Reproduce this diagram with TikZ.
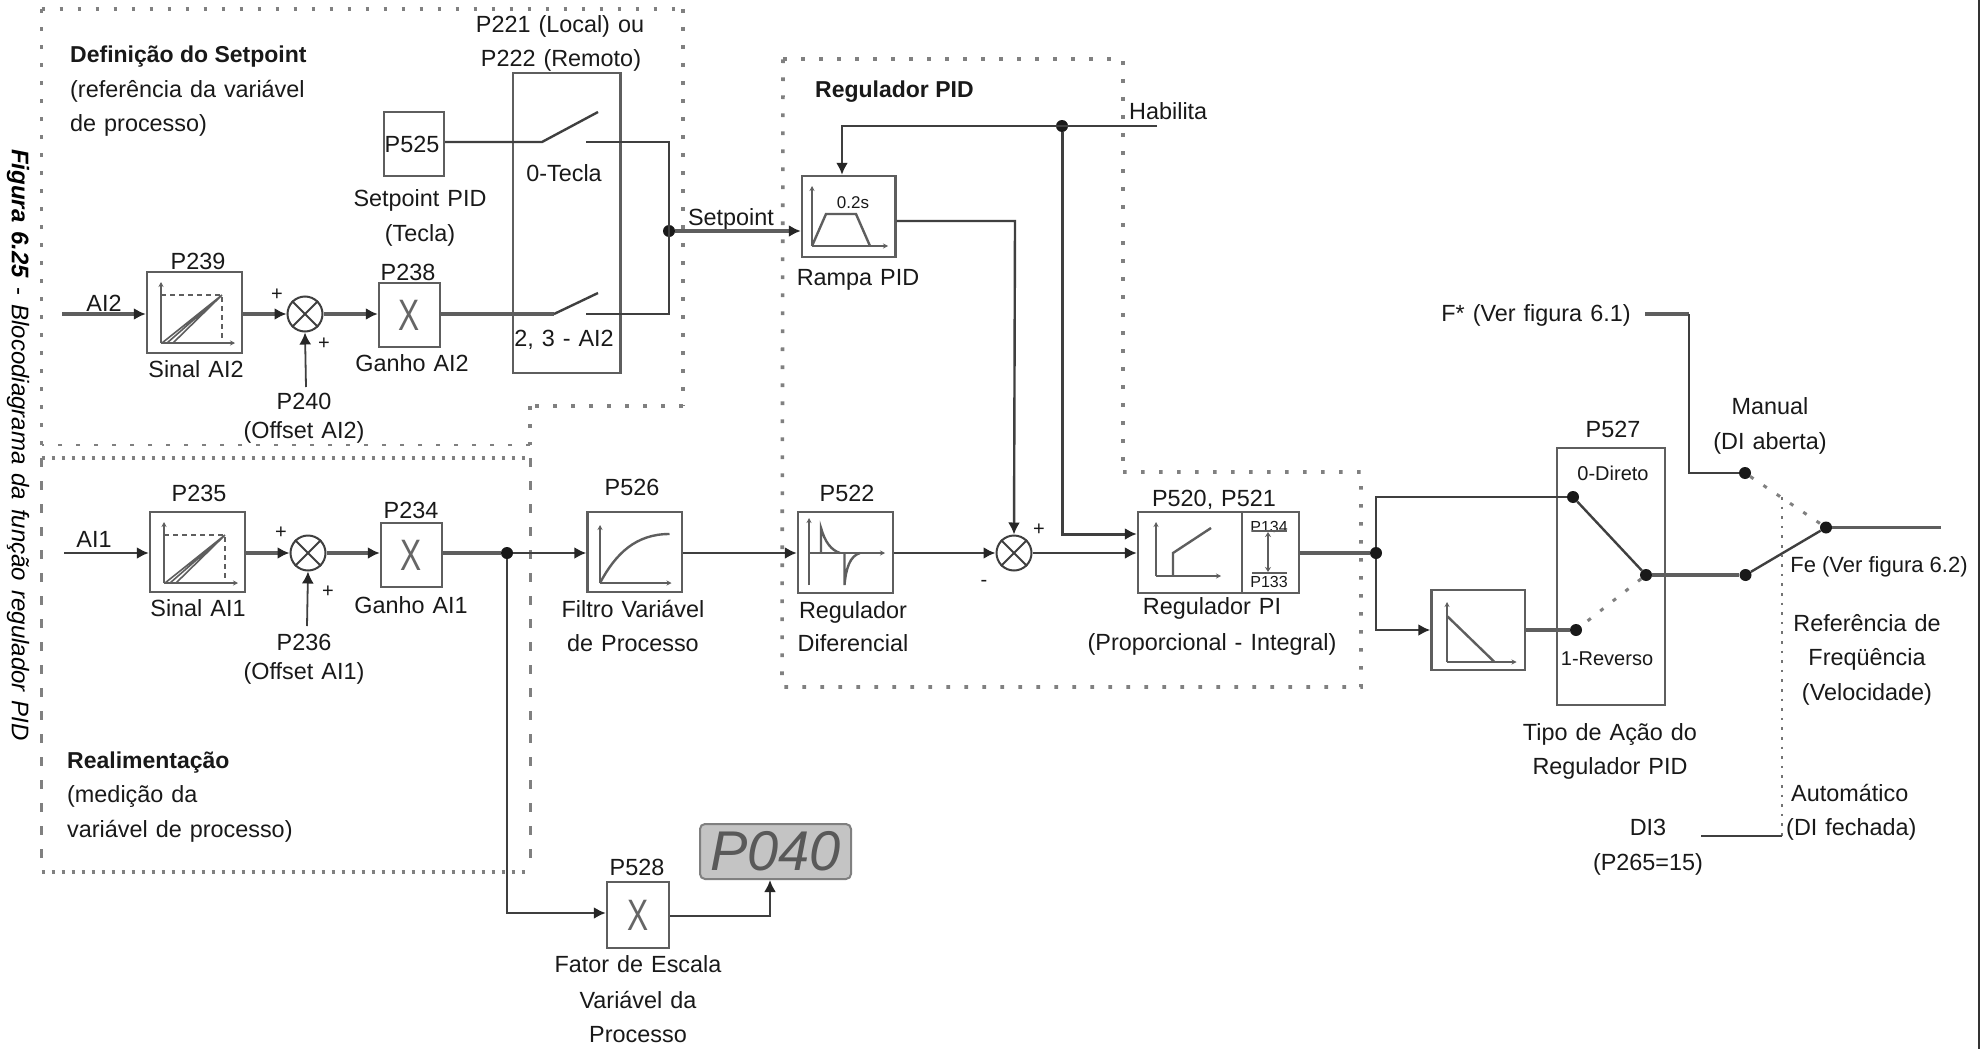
\documentclass[tikz,border=0pt]{standalone}
\usepackage{fontspec}
\setmainfont{Liberation Sans}
\usetikzlibrary{arrows.meta,calc}
\definecolor{boxc}{HTML}{5E5E5E}
\definecolor{wirec}{HTML}{3F3F3F}
\definecolor{dotc}{HTML}{808080}
\newcommand{\widesp}{\spaceskip 8pt\relax}
\newcommand{\widerp}{\spaceskip 9pt\relax}
\tikzset{
  lab/.style={inner sep=0pt,text height=16.5pt,text depth=0pt,font=\fontsize{23.4}{23.4}\selectfont\widesp,text=black!90},
  lableft/.style={lab,anchor=west},
  labb/.style={lab,font=\fontsize{23}{23}\bfseries\selectfont},
  labs/.style={lab,font=\fontsize{20}{20}\selectfont,text height=14.5pt},
  labt/.style={lab,font=\fontsize{16}{16}\selectfont,text height=12pt},
  bx/.style={draw=boxc,line width=2.4pt,fill=white,inner sep=0pt,minimum width=#1},
  bx/.default=60pt,
  wire/.style={draw=wirec,line width=2.4pt},
  wireh/.style={draw=boxc,line width=3.4pt},
  thin wire/.style={draw=wirec,line width=1.8pt},
  arr/.style={-{Latex[length=12pt,width=12pt,black!85]}},
  jun/.style={circle,fill=black!90,inner sep=0pt,minimum size=12pt},
  sumn/.style={circle,draw=wirec,line width=2pt,fill=white,inner sep=0pt,minimum size=35pt},
  axes/.style={draw=boxc,line width=2pt,-{Stealth[length=5pt,width=5pt]}},
  gr/.style={draw=boxc,line width=2.4pt},
  dotreg/.style={draw=dotc,line width=3.6pt,dash pattern=on 3.6pt off 14.4pt},
  dotdense/.style={draw=dotc,line width=3.6pt,dash pattern=on 3.6pt off 6.4pt},
  dashreg/.style={draw=dotc,line width=3pt,dash pattern=on 9pt off 14pt},
  dotthin/.style={draw=black!55,line width=2.4pt,dash pattern=on 2.6pt off 7pt},
  dotlink/.style={draw=dotc,line width=3pt,dash pattern=on 4pt off 12pt},
  xmark/.style={font=\fontsize{44}{44}\selectfont,text=black!60},
}
\newcommand{\crs}[1]{\draw[line width=1.8pt,draw=wirec] (#1.45) -- (#1.225) (#1.135) -- (#1.315);}
\newcommand{\xm}{\scalebox{.72}[1]{X}}
\newcommand{\sinalgraph}[2]{% box NW x,y
  \begin{scope}[shift={(#1,#2)}]
  \draw[axes] (14,71) -- (14,10);
  \draw[axes] (14,71) -- (88,71);
  \draw[draw=boxc,line width=2pt,dashed,dash pattern=on 5pt off 4pt] (14,23) -- (75,23) -- (75,71);
  \draw[gr,line width=1.6pt] (15,71) -- (75,23) (20,71) -- (75,23) (26,71) -- (75,23);
  \end{scope}}
\begin{document}
\begin{tikzpicture}[x=1pt,y=-1pt]
\useasboundingbox[fill=white] (0,0) rectangle (1986,1049);

% scan edge line
\draw[draw=black!80,line width=2pt] (1979,0) -- (1979,1049);

% dotted regions
\draw[dotreg] (41.5,9) -- (683,9);
\draw[dotreg] (683,9) -- (683,406);
\draw[dotreg] (683,406) -- (530,406);
\draw[dotreg] (530,406) -- (530,445);
\draw[dotreg,line width=2.8pt] (530,445) -- (41.5,445);
\draw[dotreg] (41.5,445) -- (41.5,9);
\draw[dotdense] (41.5,458) -- (530,458);
\draw[dotdense] (41.5,872) -- (530,872);
\draw[dashreg] (41.5,458) -- (41.5,872);
\draw[dashreg] (530,458) -- (530,872);
\draw[dotreg] (783,59) -- (1123,59) -- (1123,472);
\draw[dotreg] (1123,472) -- (1361,472) -- (1361,687) -- (782,687) -- (783,59);

% caption
\node[inner sep=0pt,rotate=-90,font=\fontsize{24}{24}\selectfont\widerp] (cap) at (18,445) {\textbf{\textit{Figura 6.25}} - \textit{Blocodiagrama da função regulador PID}};

% titles
\node[labb,anchor=west] (t1) at (70,54) {Definição do Setpoint};
\node[lableft] (t2) at (70,89) {(referência da variável};
\node[lableft] (t3) at (70,123) {de processo)};
\node[labb,anchor=west] (t4) at (67,760) {Realimentação};
\node[lableft] (t5) at (67,794) {(medição da};
\node[lableft] (t6) at (67,829) {variável de processo)};
\node[labb,anchor=west] (t7) at (815,89) {Regulador PID};

% upper chain boxes
\node[bx=95pt,minimum height=81pt] (p239) at (194.5,312.5) {};
\node[sumn] (s2) at (305,314) {};
\node[bx=61pt,minimum height=64pt,xmark] (p238) at (409.5,315) {\xm};
\node[bx=60pt,minimum height=64pt] (p525) at (414,144) {};
\node[bx=107.5pt,minimum height=300pt,fill=none] (sw) at (566.75,223) {};
\crs{s2}
\sinalgraph{147}{272}
\node[lab,inner sep=0pt] (p525t) at (412,144) {P525};
\node[lab] (lp239) at (198,261) {P239};
\node[lab] (lsa2) at (196,369) {Sinal AI2};
\node[lab] (lai2) at (104,303) {AI2};
\node[labs] (pl1) at (277,293) {+};
\node[labs] (pl2) at (324,342) {+};
\node[lab] (lp238) at (408,272) {P238};
\node[lab] (lg2) at (412,363) {Ganho AI2};
\node[lab] (lp240) at (304,401) {P240};
\node[lab] (lo2) at (304,430) {(Offset AI2)};
\node[lab] (lsp) at (420,198) {Setpoint PID};
\node[lab] (ltc) at (420,233) {(Tecla)};
\node[lab] (lp221) at (560,24) {P221 (Local) ou};
\node[lab] (lp222) at (561,58) {P222 (Remoto)};
\node[lab] (l0t) at (564,173) {0-Tecla};
\node[lab] (l23) at (564,338) {2, 3 - AI2};

% upper chain wires
\coordinate (ai2s) at (62,314);
\coordinate (o2) at (306,387);
\coordinate (c1a) at (542,142);
\coordinate (c1b) at (598,112);
\coordinate (c1c) at (586,142);
\coordinate (c2a) at (554,314);
\coordinate (c2b) at (598,293);
\coordinate (c2c) at (586,314);
\coordinate (cr) at (669,142);
\coordinate (crb) at (669,314);
\node[jun] (j1) at (669,231) {};
\draw[wireh,arr] (ai2s) -- (p239.west |- ai2s);
\draw[wireh,arr] (p239.east |- s2) -- (s2);
\draw[wireh,arr] (s2) -- (p238.west |- s2);
\draw[thin wire,arr] (o2) -- (s2.south);
\draw[wire] (p525.east |- c1a) -- (c1a) -- (c1b);
\draw[wireh] (p238.east |- c2a) -- (c2a);
\draw[wire] (c2a) -- (c2b);
\draw[wire] (c1c) -- (cr) -- (crb) -- (c2c);

% ramp
\node[bx=93.5pt,minimum height=81pt] (ramp) at (848.75,216.5) {};
\begin{scope}[shift={(802,176)}]
\draw[axes] (10,70) -- (10,10);
\draw[axes] (10,70) -- (86,70);
\draw[gr] (10,70) -- (24,38) -- (54,38) -- (68,70);
\end{scope}
\node[labt,font=\fontsize{17}{17}\selectfont] (l02) at (853,202) {0.2s};
\node[lab] (lrp) at (858,277) {Rampa PID};
\node[lab] (lsetp) at (731,217) {Setpoint};
\node[lableft] (lhab) at (1129,111) {Habilita};
\draw[wireh,arr] (j1) -- (ramp.west |- j1);
\coordinate (hab) at (1157,126);
\coordinate (habl) at (842,126);
\node[jun] (j2) at (1062,126) {};
\draw[wire,arr] (hab) -- (habl) -- (ramp.north -| habl);

% lower chain
\node[bx=95pt,minimum height=80pt] (p235) at (197.5,552) {};
\node[sumn] (s1) at (308,553) {};
\node[bx=61pt,minimum height=64pt,xmark] (p234) at (411.5,555) {\xm};
\node[bx=94.5pt,minimum height=80pt] (p526) at (634.75,552) {};
\node[bx=95pt,minimum height=81pt] (p522) at (845.5,552.5) {};
\node[sumn] (s3) at (1014,553) {};
\node[bx=104pt,minimum height=81pt] (pi) at (1190,552.5) {};
\node[bx=57pt,minimum height=81pt] (lim) at (1270.5,552.5) {};
\crs{s1}\crs{s3}
\sinalgraph{150}{512}
\node[lab] (lp235) at (199,493) {P235};
\node[lab] (lsa1) at (198,608) {Sinal AI1};
\node[lab] (lai1) at (94,539) {AI1};
\node[labs] (pl3) at (281,531) {+};
\node[labs] (pl4) at (328,590) {+};
\node[lab] (lp234) at (411,510) {P234};
\node[lab] (lg1) at (411,605) {Ganho AI1};
\node[lab] (lp236) at (304,642) {P236};
\node[lab] (lo1) at (304,671) {(Offset AI1)};
\node[lab] (lp526) at (632,487) {P526};
\node[lab] (lf1) at (633,609) {Filtro Variável};
\node[lab] (lf2) at (633,643) {de Processo};
\node[lab] (lp522) at (847,493) {P522};
\node[lab] (lr1) at (853,610) {Regulador};
\node[lab] (lr2) at (853,643) {Diferencial};
\node[labs] (pl5) at (1039,528) {+};
\node[labs] (mi1) at (984,579) {-};
\node[lab] (lp520) at (1214,498) {P520, P521};
\node[lab] (lpi) at (1212,606) {Regulador PI};
\node[lab] (lpp) at (1212,642) {(Proporcional - Integral)};
\node[labt] (l134) at (1269,526) {P134};
\node[labt] (l133) at (1269,581) {P133};
\begin{scope}[shift={(587.5,512)}]
\draw[axes] (12.5,71) -- (12.5,13);
\draw[axes] (12.5,71) -- (84,71);
\draw[gr] (12.5,71) .. controls (28,42) and (48,22) .. (82,22);
\end{scope}
\begin{scope}[shift={(798,512)}]
\draw[axes] (11,73) -- (11,6);
\draw[axes] (11,41) -- (87,41);
\draw[gr] (23,41) -- (23,16) .. controls (27,30) and (33,38) .. (42,41);
\draw[gr] (46.5,41) -- (46.5,73) .. controls (48,56) and (52,44) .. (62,41);
\end{scope}
\begin{scope}[shift={(1138,512)}]
\draw[axes] (18,64) -- (18,10);
\draw[axes] (18,64) -- (83,64);
\draw[gr] (35,64) -- (35,41) -- (73,16);
\end{scope}
\draw[draw=boxc,line width=2.4pt] (1252,531) -- (1286.5,531) (1252,573) -- (1286.5,573);
\draw[draw=boxc,line width=1.6pt,{Stealth[length=5pt,width=6pt]}-{Stealth[length=5pt,width=6pt]}] (1268,532) -- (1268,572);

\coordinate (ai1s) at (64,553);
\coordinate (o1) at (307,626);
\coordinate (rbr) at (1015,221);
\coordinate (pi2) at (1062,534);
\node[jun] (j3) at (507,553) {};
\node[jun] (j4) at (1376,553) {};
\draw[wire,arr] (ai1s) -- (p235.west |- ai1s);
\draw[wireh,arr] (p235.east |- s1) -- (s1);
\draw[wireh,arr] (s1) -- (p234.west |- s1);
\draw[thin wire,arr] (o1) -- (s1.south);
\draw[wireh] (p234.east |- j3) -- (j3);
\draw[wire,arr] (j3) -- (p526.west |- j3);
\draw[wire,arr] (p526.east |- j3) -- (p522.west |- j3);
\draw[wire,arr] (p522.east |- s3) -- (s3);
\draw[wire,arr] (s3) -- (pi.west |- s3);
\draw[wire,arr] (ramp.east |- rbr) -- (rbr) -- (s3.north);
\draw[draw=wirec,line width=3pt,arr] (j2) -- (pi2) -- (pi.west |- pi2);
\draw[wireh] (lim.east |- j4) -- (j4);

% P528 + display
\node[bx=62pt,minimum height=66pt,xmark] (p528) at (638,915) {\xm};
\node[lab] (lp528) at (637,867) {P528};
\node[lab] (lfa) at (638,964) {Fator de Escala};
\node[lab] (lva) at (638,1000) {Variável da};
\node[lab] (lpr) at (638,1034) {Processo};
\node[draw=black!50,line width=2pt,fill=black!23,rounded corners=5pt,minimum width=151pt,minimum height=55pt,inner sep=0pt,
      font=\itshape\fontsize{56}{56}\selectfont,text=black!65] (disp) at (775.5,851.5) {P040};
\coordinate (lowc) at (507,913);
\coordinate (dsp) at (770,916);
\draw[wire,arr] (j3) -- (lowc) -- (p528.west |- lowc);
\draw[wire,arr] (p528.east |- dsp) -- (dsp) -- (disp.south -| dsp);

% action type
\node[bx=108pt,minimum height=257pt,fill=none] (p527) at (1611,576.5) {};
\node[bx=93.5pt,minimum height=80pt] (inv) at (1478.25,630) {};
\begin{scope}[shift={(1431.5,590)}]
\draw[axes] (15.5,72) -- (15.5,12);
\draw[axes] (15.5,72) -- (85,72);
\draw[gr] (15.5,26) -- (63,72);
\end{scope}
\node[lab] (lp527) at (1613,429) {P527};
\node[labs] (l0d) at (1613,473) {0-Direto};
\node[labs] (l1r) at (1607,658) {1-Reverso};
\node[lab] (lta) at (1610,732) {Tipo de Ação do};
\node[lab] (ltr) at (1610,766) {Regulador PID};
\node[jun] (d1) at (1573,497) {};
\node[jun] (d2) at (1576,630) {};
\node[jun] (d3) at (1646,575) {};
\node[jun] (d4) at (1745.5,575) {};
\node[jun] (d5) at (1826,527.5) {};
\node[jun] (d6) at (1745,473) {};
\coordinate (jt) at (1376,497);
\coordinate (jb) at (1376,630);
\draw[wire] (j4) -- (jt) -- (d1);
\draw[wire,arr] (j4) -- (jb) -- (inv.west |- jb);
\draw[wireh] (inv.east |- d2) -- (d2);
\draw[wire] (d1) -- (d3);
\draw[dotlink] (d3) -- (d2);
\draw[wireh] (d3) -- (d4);
\draw[wire] (d4) -- (d5);
\draw[dotlink] (d6) -- (d5);
\coordinate (oute) at (1941,527.5);
\draw[wireh] (d5) -- (oute);

% right side
\coordinate (fs) at (1645,314);
\coordinate (fb) at (1689,314);
\draw[wireh] (fs) -- (fb);
\draw[wire] (fb) -- (fb |- d6) -- (d6);
\coordinate (dit) at (1782,497);
\coordinate (dib) at (1782,836);
\coordinate (dil) at (1700.5,836);
\draw[dotthin] (dit) -- (dib);
\draw[wire] (dib) -- (dil);
\node[lab] (lf) at (1536,313) {F* (Ver figura 6.1)};
\node[lab] (lm) at (1770,406) {Manual};
\node[lab] (lda) at (1770,441) {(DI aberta)};
\node[lab,font=\fontsize{22}{22}\selectfont] (lfe) at (1879,564) {Fe (Ver figura 6.2)};
\node[lab] (lref) at (1867,623) {Referência de};
\node[lab] (lfrq) at (1867,657) {Freqüência};
\node[lab] (lvel) at (1867,692) {(Velocidade)};
\node[lableft] (lau) at (1791,793) {Automático};
\node[lableft] (ldf) at (1786,827) {(DI fechada)};
\node[lab] (ldi3) at (1648,827) {DI3};
\node[lab] (lp265) at (1648,862) {(P265=15)};
\end{tikzpicture}
\end{document}
